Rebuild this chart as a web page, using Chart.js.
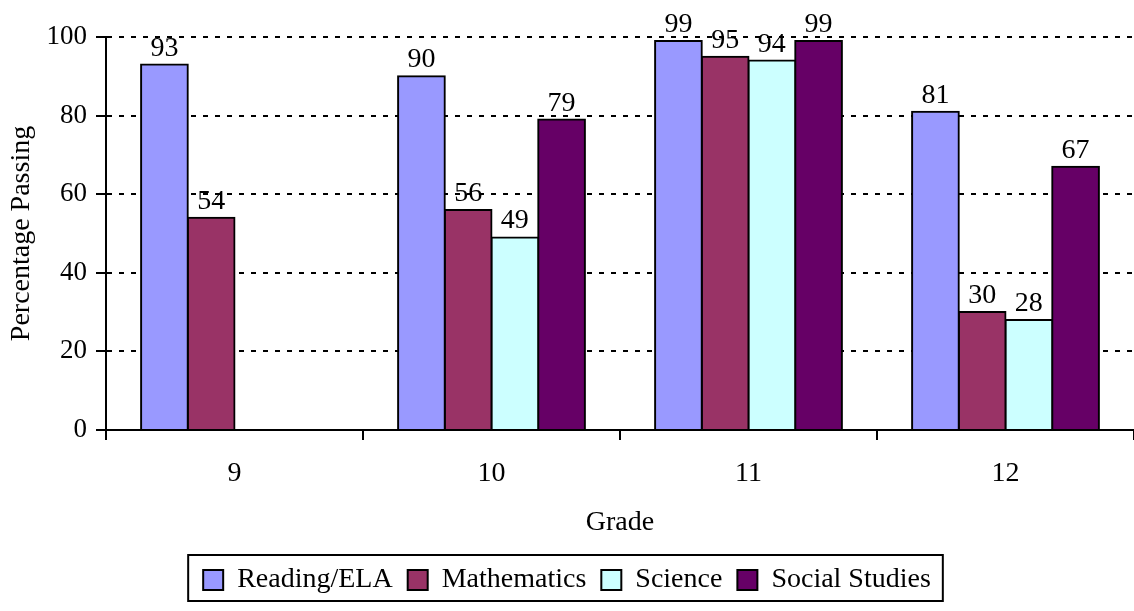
<!DOCTYPE html>
<html>
<head>
<meta charset="utf-8">
<script src="https://cdn.jsdelivr.net/npm/chart.js@4.4.1/dist/chart.umd.min.js"></script>
<style>
  body { margin: 0; background: #fff; }
  #wrap { width: 1134px; height: 611px; position: relative; }
</style>
</head>
<body>
<div id="wrap"><canvas id="grafico"></canvas></div>
<script>
const grados = ['9', '10', '11', '12'];
const lectura = [93, 90, 99, 81];
const matematicas = [54, 56, 95, 30];
const ciencias = [null, 49, 94, 28];
const sociales = [null, 79, 99, 67];
const ticksY = [0, 20, 40, 60, 80, 100];

const fuente = "'Liberation Serif', 'Times New Roman', serif";

// etiquetas encima de cada barra
const etiquetas = {
  id: 'etiquetas',
  afterDatasetsDraw(chart) {
    const ctx = chart.ctx;
    ctx.save();
    ctx.font = '28px ' + fuente;
    ctx.fillStyle = '#000';
    ctx.textAlign = 'center';
    ctx.textBaseline = 'alphabetic';
    chart.data.datasets.forEach((ds, i) => {
      chart.getDatasetMeta(i).data.forEach((bar, j) => {
        if (ds.data[j] == null) return;
        ctx.fillText(ds.data[j], bar.x, bar.y - 9);
      });
    });
    ctx.restore();
  }
};

// marco alrededor de la leyenda
const marcoLeyenda = {
  id: 'marcoLeyenda',
  afterDraw(chart) {
    const cajas = chart.legend.legendHitBoxes;
    if (!cajas || !cajas.length) return;
    const izq = cajas[0].left - 15;
    const ult = cajas[cajas.length - 1];
    const der = ult.left + ult.width + 12;
    const arriba = cajas[0].top - 11;
    const abajo = cajas[0].top + cajas[0].height + 7;
    const ctx = chart.ctx;
    ctx.save();
    ctx.strokeStyle = '#000';
    ctx.lineWidth = 2;
    ctx.strokeRect(izq, arriba, der - izq, abajo - arriba);
    ctx.restore();
  }
};

function dibujar() {
  new Chart(document.getElementById('grafico'), {
    type: 'bar',
    data: {
      labels: grados,
      datasets: [
        { label: 'Reading/ELA', data: lectura, backgroundColor: '#9999FF' },
        { label: 'Mathematics', data: matematicas, backgroundColor: '#993366' },
        { label: 'Science', data: ciencias, backgroundColor: '#CCFFFF' },
        { label: 'Social Studies', data: sociales, backgroundColor: '#660066' }
      ]
    },
    options: {
      responsive: true,
      maintainAspectRatio: false,
      animation: false,
      layout: { padding: { top: 37, right: 0, bottom: 7, left: 0 } },
      datasets: {
        bar: {
          borderColor: '#000',
          borderWidth: 2,
          inflateAmount: 1,
          barPercentage: 1,
          categoryPercentage: 0.727
        }
      },
      plugins: {
        legend: {
          position: 'bottom',
          labels: {
            color: '#000',
            font: { family: fuente, size: 28 },
            boxWidth: 20,
            boxHeight: 20,
            padding: 15
          }
        },
        tooltip: { enabled: false }
      },
      scales: {
        x: {
          afterFit: (s) => { s.height = 121; },
          border: { color: '#000', width: 2 },
          grid: {
            offset: true,
            drawOnChartArea: false,
            color: '#000',
            lineWidth: 2,
            tickLength: 10
          },
          ticks: { color: '#000', font: { family: fuente, size: 28 }, padding: 17 },
          title: {
            display: true,
            text: 'Grade',
            color: '#000',
            font: { family: fuente, size: 28 },
            padding: { top: 0, bottom: 12 }
          }
        },
        y: {
          min: 0,
          max: 100,
          afterFit: (s) => { s.width = 106; },
          afterBuildTicks: (s) => { s.ticks = ticksY.map(v => ({ value: v })); },
          border: { color: '#000', width: 2, dash: [5, 7] },
          grid: {
            color: '#000',
            lineWidth: 2,
            tickLength: 10,
            tickColor: '#000',
            tickWidth: 2
          },
          ticks: { color: '#000', font: { family: fuente, size: 27 }, padding: 9 },
          title: {
            display: true,
            text: 'Percentage Passing',
            color: '#000',
            font: { family: fuente, size: 28 },
            padding: { top: 5, bottom: 0 }
          }
        }
      }
    },
    plugins: [etiquetas, marcoLeyenda]
  });
}

document.fonts.load("28px 'Liberation Serif'").then(dibujar, dibujar);
</script>
</body>
</html>
